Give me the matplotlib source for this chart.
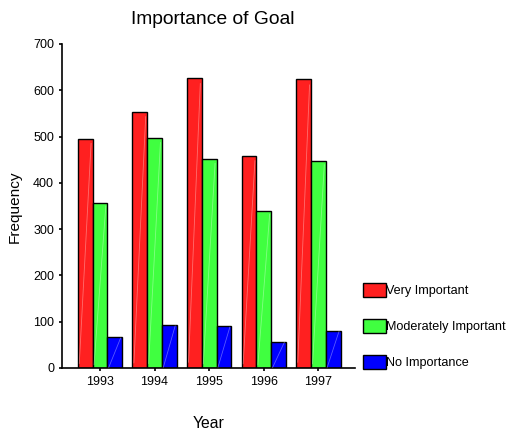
import matplotlib
matplotlib.use("Agg")
import matplotlib.pyplot as plt
import numpy as np
from matplotlib.patches import Patch

plt.rcParams['font.family'] = ['Liberation Sans', 'DejaVu Sans']

years = ["1993", "1994", "1995", "1996", "1997"]
very_important = [495, 554, 627, 457, 624]
moderately_important = [357, 497, 451, 339, 448]
no_importance = [66, 93, 90, 57, 81]
series_labels = ["Very Important", "Moderately Important", "No Importance"]
colors = ["#FF2020", "#40FF40", "#0000FF"]

fig = plt.figure(figsize=(5.08, 4.32), dpi=100)
ax = fig.add_axes([61.7 / 508, 1 - 368 / 432, (355 - 61.7) / 508, (368 - 44) / 432])

x = np.arange(len(years))
w = 0.27
for i, (vals, col) in enumerate(zip([very_important, moderately_important, no_importance], colors)):
    bars = ax.bar(x + (i - 1) * w, vals, width=w, color=col, edgecolor="black", linewidth=1.0, zorder=2)
    # faint diagonal sheen across each bar
    for b in bars:
        x0, bw, h = b.get_x(), b.get_width(), b.get_height()
        ax.plot([x0 + 0.1 * bw, x0 + 0.9 * bw], [h * 0.02, h * 0.98], color="white",
                lw=0.6, alpha=0.35, zorder=3)

ax.set_xlim(-0.70, 4.67)
ax.set_ylim(0, 700)
ax.set_yticks(range(0, 701, 100))
ax.set_xticks(x)
ax.set_xticklabels(years)
ax.tick_params(axis="both", labelsize=9, length=2.5, width=1.2, pad=3)
for s in ["top", "right"]:
    ax.spines[s].set_visible(False)
for s in ["left", "bottom"]:
    ax.spines[s].set_linewidth(1.2)

fig.text(213 / 508, 1 - 19.5 / 432, "Importance of Goal", ha="center", va="center", fontsize=13.9)
fig.text(15 / 508, 1 - 206.5 / 432, "Frequency", ha="center", va="center", rotation=90, fontsize=11.1)
fig.text(209 / 508, 1 - 423 / 432, "Year", ha="center", va="center", fontsize=11.3)

handles = [Patch(facecolor=c, edgecolor="black", linewidth=1.0) for c in colors]
fig.legend(handles, series_labels, loc="upper left", bbox_to_anchor=(360 / 508, 1 - 280 / 432),
           frameon=False, fontsize=9.1, handlelength=1.82, handleheight=1.4,
           handletextpad=0.05, labelspacing=1.7, borderaxespad=0, borderpad=0.2)

fig.savefig("out.png", dpi=100)
